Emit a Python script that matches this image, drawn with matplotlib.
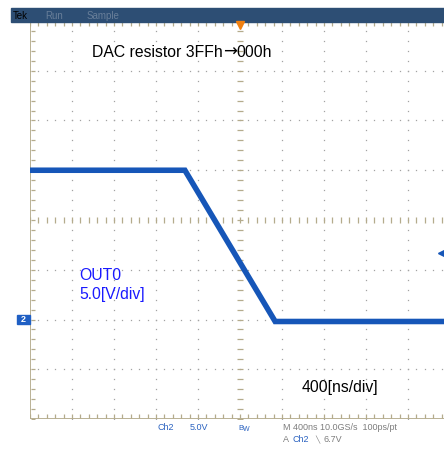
import matplotlib
matplotlib.use("Agg")
import matplotlib.pyplot as plt
import numpy as np
from matplotlib.patches import Rectangle

W, H = 444, 450
FONT = ["Liberation Sans", "DejaVu Sans"]

# waveform (time in ns, voltage in V)
TIME_NS = [-2000, -525, 335, 2000]
VOLTS = [15.0, 15.0, -0.2, -0.2]

NS_PER_DIV = 400
V_PER_DIV = 5.0
CENTER_V = 10.0  # ground marker sits 2 div below centre

TITLE = ["DAC resistor 3FFh", "\u2192", "000h"]
CH_LABEL = ["OUT0", "5.0[V/div]"]
TIME_LABEL = "400[ns/div]"

WAVE_COLOR = "#1656b8"
FRAME_COLOR = "#b4ab8c"
DOT_COLOR = "#a3a3a3"


def px(x, y):
    return x / W, 1 - y / H


fig = plt.figure(figsize=(W / 100, H / 100), dpi=100)
left, top, right, bottom = 30, 21, 450, 419
ax = fig.add_axes([left / W, 1 - bottom / H, (right - left) / W, (bottom - top) / H])
xmin, xmax = -5 * NS_PER_DIV, 5 * NS_PER_DIV
ymin, ymax = CENTER_V - 4 * V_PER_DIV, CENTER_V + 4 * V_PER_DIV
ax.set_xlim(xmin, xmax)
ax.set_ylim(ymin, ymax)
ax.axis("off")

# graticule dots
xminor = np.arange(xmin, xmax + 1, NS_PER_DIV / 5)
yminor = np.arange(ymin, ymax + 0.01, V_PER_DIV / 5)
for k in range(-4, 5):
    if k == 0:
        continue
    ax.plot(np.full_like(yminor, k * NS_PER_DIV), yminor, ls="none",
            marker="s", ms=0.9, mew=0, color=DOT_COLOR)
for k in range(-3, 4):
    if k == 0:
        continue
    ax.plot(xminor, np.full_like(xminor, CENTER_V + k * V_PER_DIV), ls="none",
            marker="s", ms=0.9, mew=0, color=DOT_COLOR)

# centre cross lines with ticks
ax.plot(np.zeros_like(yminor), yminor, ls="none", marker="_", ms=4,
        mew=0.9, color=FRAME_COLOR)
ax.plot(xminor, np.full_like(xminor, CENTER_V), ls="none", marker="|",
        ms=4, mew=0.9, color=FRAME_COLOR)

# frame with inward ticks
ax.plot([xmin, xmin], [ymin, ymax], color=FRAME_COLOR, lw=1.3)
ax.plot([xmin, xmax], [ymin, ymin], color=FRAME_COLOR, lw=1.3)
ax.plot([xmin, xmax], [ymax, ymax], color=FRAME_COLOR, lw=0.8)
ax.plot(xminor, np.full_like(xminor, ymin + 0.35), ls="none", marker="|",
        ms=2.2, mew=0.9, color=FRAME_COLOR)
ax.plot(xminor, np.full_like(xminor, ymax - 0.35), ls="none", marker="|",
        ms=2.2, mew=0.9, color=FRAME_COLOR)
ax.plot(np.full_like(yminor, xmin + 25), yminor, ls="none", marker="_",
        ms=2.2, mew=0.9, color=FRAME_COLOR)

# waveform
ax.plot(TIME_NS, VOLTS, color=WAVE_COLOR, lw=4.0, solid_joinstyle="miter")

# header bar
fig.patches.append(Rectangle(px(11, 22), 433 / W, 14 / H,
                             transform=fig.transFigure, color="#2d4e74"))
fig.text(*px(13, 19), "Tek", fontsize=7, color="black", family=FONT)
fig.text(*px(45, 19), "Run", fontsize=7, color="#687e99", family=FONT)
fig.text(*px(87, 19), "Sample", fontsize=7, color="#687e99", family=FONT)

# trigger position / level markers
fig.lines.append(plt.Line2D([240 / W], [1 - 25 / H], marker="v", ms=6,
                            color="#f08010", transform=fig.transFigure))
fig.lines.append(plt.Line2D([441 / W], [1 - 253 / H], marker="<", ms=5,
                            color=WAVE_COLOR, transform=fig.transFigure))
fig.patches.append(Rectangle(px(17, 324), 13 / W, 9 / H,
                             transform=fig.transFigure, color="#1f5fc4"))
fig.text(*px(23, 320), "2", fontsize=6.5, color="white", ha="center",
         va="center", family=FONT, fontweight="bold")

# title drawn in pieces so the arrow is the DejaVu glyph
renderer = fig.canvas.get_renderer()
x0, y0 = px(92, 57)
t1 = fig.text(x0, y0, TITLE[0], fontsize=11.3, color="black", family=FONT)
x1 = t1.get_window_extent(renderer).x1 / W
t2 = fig.text(x1, y0, TITLE[1], fontsize=12, color="black",
              family=["DejaVu Sans"])
x2 = t2.get_window_extent(renderer).x1 / W
fig.text(x2, y0, TITLE[2], fontsize=11.3, color="black", family=FONT)

fig.text(*px(79, 280), CH_LABEL[0], fontsize=11.3, color="#1a1aff", family=FONT)
fig.text(*px(79, 299), CH_LABEL[1], fontsize=11.3, color="#1a1aff", family=FONT)
fig.text(*px(302, 392), TIME_LABEL, fontsize=11.3, color="black", family=FONT)

# status line
blue, gray = "#2a62c0", "#7d7d7d"
fig.text(*px(157, 430), "Ch2", fontsize=6.5, color=blue, family=FONT)
fig.text(*px(190, 430), "5.0V", fontsize=6.5, color=blue, family=FONT)
fig.text(*px(238, 430), "B", fontsize=5.5, color=blue, family=FONT)
fig.text(*px(243, 431), "W", fontsize=5, color=blue, family=FONT)
fig.text(*px(283, 430), "M 400ns 10.0GS/s  100ps/pt", fontsize=6.5,
         color=gray, family=FONT)
fig.text(*px(283, 442), "A", fontsize=6.5, color=gray, family=FONT)
fig.text(*px(292, 442), "Ch2", fontsize=6.5, color=blue, family=FONT)
fig.text(*px(315, 442), "\u2572", fontsize=5, color=gray, family=FONT)
fig.text(*px(323, 442), "6.7V", fontsize=6.5, color=gray, family=FONT)

fig.savefig("out.png", dpi=100, facecolor="white")
